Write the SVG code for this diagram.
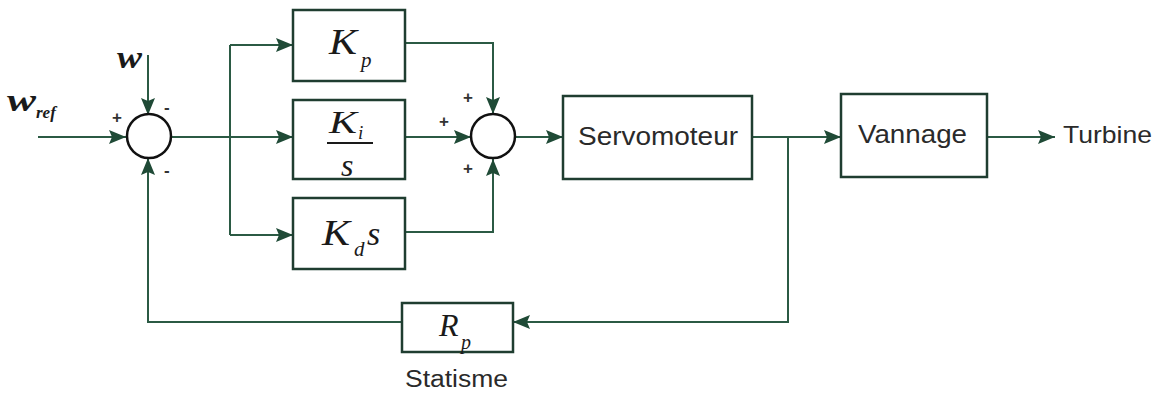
<svg xmlns="http://www.w3.org/2000/svg" width="1166" height="394" viewBox="0 0 1166 394">
<style>
.ln{fill:none;stroke:#2b5a44;stroke-width:2}
.bx{fill:#fff;stroke:#1f3d30;stroke-width:2.5}
.sum{fill:#fff;stroke:#111;stroke-width:2.5}
.m{font-family:"Liberation Serif",serif;font-style:italic;fill:#1a1a1a}
.t{font-family:"Liberation Sans",Arial,sans-serif;fill:#2a2a2a}
.sg{font-family:"Liberation Sans",Arial,sans-serif;font-size:17px;font-weight:bold;fill:#333}
</style>
<defs>
<marker id="ah" viewBox="0 0 17 14" refX="17" refY="7" markerWidth="17" markerHeight="14" markerUnits="userSpaceOnUse" orient="auto">
<path d="M0,0 L17,7 L0,14 L3,7 Z" fill="#1f4a36"/>
</marker>
</defs>
<rect width="1166" height="394" fill="#fff"/>
<g id="connectors">
<path class="ln" d="M38,137 H126" marker-end="url(#ah)"/>
<path class="ln" d="M148,55 V115" marker-end="url(#ah)"/>
<path class="ln" d="M403,322 H148 V158" marker-end="url(#ah)"/>
<path class="ln" d="M171,137 H230"/>
<path class="ln" d="M230,45 V235"/>
<path class="ln" d="M230,45 H293" marker-end="url(#ah)"/>
<path class="ln" d="M230,137 H293" marker-end="url(#ah)"/>
<path class="ln" d="M230,235 H293" marker-end="url(#ah)"/>
<path class="ln" d="M405,43 H493 V114" marker-end="url(#ah)"/>
<path class="ln" d="M405,137 H471" marker-end="url(#ah)"/>
<path class="ln" d="M405,232 H493 V159" marker-end="url(#ah)"/>
<path class="ln" d="M515,137 H563" marker-end="url(#ah)"/>
<path class="ln" d="M752,137 H841" marker-end="url(#ah)"/>
<path class="ln" d="M788,137 V322 H513" marker-end="url(#ah)"/>
<path class="ln" d="M987,137 H1055" marker-end="url(#ah)"/>
</g>
<g id="sum1">
<circle class="sum" cx="149" cy="136" r="22"/>
<text class="sg" x="112" y="123">+</text>
<text class="sg" x="164" y="113">-</text>
<text class="sg" x="164" y="176">-</text>
</g>
<g id="input-w">
<text class="m" x="117" y="68" font-size="32" font-weight="bold" textLength="25" lengthAdjust="spacingAndGlyphs">w</text>
</g>
<g id="input-wref">
<text class="m" x="7" y="111" font-size="32" font-weight="bold" textLength="29" lengthAdjust="spacingAndGlyphs">w</text>
<text class="m" x="36" y="118" font-size="17" font-weight="bold">ref</text>
</g>
<g id="Kp">
<rect class="bx" x="293" y="10" width="112" height="71"/>
<text class="m" x="329" y="54" font-size="36" textLength="28" lengthAdjust="spacingAndGlyphs">K</text>
<text class="m" x="361" y="67" font-size="21">p</text>
</g>
<g id="Ki">
<rect class="bx" x="293" y="100" width="112" height="79"/>
<text class="m" x="329" y="133" font-size="32" textLength="28" lengthAdjust="spacingAndGlyphs">K</text>
<text class="m" x="358" y="139" font-size="19">i</text>
<line x1="327" y1="143" x2="373" y2="143" stroke="#1a1a1a" stroke-width="2"/>
<text class="m" x="341" y="176" font-size="32">s</text>
</g>
<g id="Kd">
<rect class="bx" x="293" y="198" width="112" height="71"/>
<text class="m" x="322" y="245" font-size="36" textLength="28" lengthAdjust="spacingAndGlyphs">K</text>
<text class="m" x="354" y="256" font-size="21">d</text>
<text class="m" x="367" y="245" font-size="34">s</text>
</g>
<g id="sum2">
<circle class="sum" cx="493" cy="136" r="22"/>
<text class="sg" x="463" y="103">+</text>
<text class="sg" x="439" y="127">+</text>
<text class="sg" x="463" y="174">+</text>
</g>
<g id="servomoteur">
<rect class="bx" x="563" y="96" width="189" height="83"/>
<text class="t" x="578" y="145" font-size="25" textLength="160" lengthAdjust="spacingAndGlyphs">Servomoteur</text>
</g>
<g id="vannage">
<rect class="bx" x="841" y="94" width="146" height="83"/>
<text class="t" x="858" y="143" font-size="25" textLength="109" lengthAdjust="spacingAndGlyphs">Vannage</text>
</g>
<g id="turbine">
<text class="t" x="1063" y="143" font-size="24" textLength="89" lengthAdjust="spacingAndGlyphs">Turbine</text>
</g>
<g id="Rp">
<rect class="bx" x="402" y="303" width="111" height="49"/>
<text class="m" x="439" y="336" font-size="32">R</text>
<text class="m" x="461" y="349" font-size="20">p</text>
<text class="t" x="405" y="387" font-size="23" textLength="103" lengthAdjust="spacingAndGlyphs">Statisme</text>
</g>
</svg>
